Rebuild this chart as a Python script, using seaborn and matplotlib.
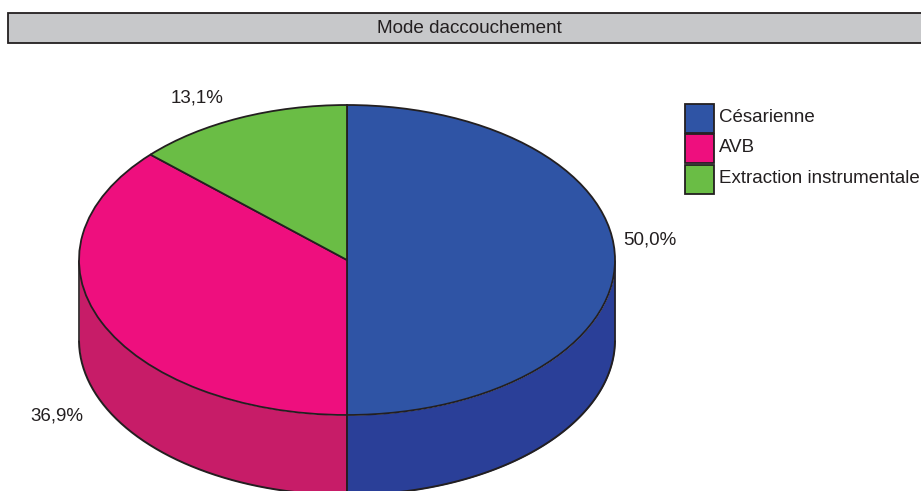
import numpy as np
import matplotlib
matplotlib.use("Agg")
import matplotlib.pyplot as plt
import seaborn as sns
from matplotlib.patches import Rectangle

# Données
categories = ["Césarienne", "AVB", "Extraction instrumentale"]
values = [50.0, 36.9, 13.1]
labels = ["50,0%", "36,9%", "13,1%"]
top_colors = ["#2F54A5", "#EE0F7E", "#6ABD45"]
side_colors = ["#2A3F98", "#C71C68", "#6ABD45"]
title = "Mode daccouchement"

W, H = 921, 491
CX, CY = 347, 260      # centre de l'ellipse en pixels
RX, RY = 268, 155
DEPTH = 80 / RY
EDGE = "#231F20"

sns.set_theme(style="white")
plt.rcParams["font.family"] = ["Liberation Sans", "DejaVu Sans"]

fig = plt.figure(figsize=(W / 100, H / 100), dpi=100, facecolor="white")
ax = fig.add_axes([0, 0, 1, 1])

# Paroi latérale : uniquement la moitié avant de chaque part
cum = 0
for val, col in zip(values, side_colors):
    a1 = 90 - cum * 3.6
    a2 = 90 - (cum + val) * 3.6
    cum += val
    t = np.radians(np.linspace(a1, a2, 200))
    t = t[np.sin(t) <= 0]
    if len(t) == 0:
        continue
    x, y = np.cos(t), np.sin(t)
    order = np.argsort(x)
    ax.fill_between(x[order], y[order], y[order] - DEPTH, color=col, lw=0, zorder=1)
    ax.plot(x[order], y[order] - DEPTH, color=EDGE, lw=1.4, zorder=2)
    for xe in [x[0], x[-1]]:
        ax.plot([xe, xe], [-np.sqrt(max(1 - xe**2, 0)), -np.sqrt(max(1 - xe**2, 0)) - DEPTH],
                color=EDGE, lw=1.2, zorder=2)

# Face supérieure
wedges, _ = ax.pie(values, colors=top_colors, startangle=90, counterclock=False, radius=1,
                   wedgeprops=dict(edgecolor=EDGE, linewidth=1.3, zorder=3), frame=True)
for w in wedges:
    w.set_zorder(3)

ax.set_aspect("auto")
ax.set_xlim(-CX / RX, (W - CX) / RX)
ax.set_ylim(-(H - CY) / RY, CY / RY)
ax.set_xticks([])
ax.set_yticks([])
for s in ax.spines.values():
    s.set_visible(False)

# Étiquettes en pourcentage
label_pos = [(650, 240), (57, 416), (197, 98)]
for lab, (px, py) in zip(labels, label_pos):
    fig.text(px / W, 1 - py / H, lab, ha="center", va="center", fontsize=13.5, color=EDGE)

# Bandeau du titre
fig.add_artist(Rectangle((8 / W, 1 - 43 / H), (W + 20) / W, 30 / H, transform=fig.transFigure,
                         facecolor="#C7C8CA", edgecolor=EDGE, linewidth=1.3))
fig.text(469.5 / W, 1 - 28.5 / H, title, ha="center", va="center", fontsize=13.6, color=EDGE)

# Légende
leg = ax.legend(wedges, categories, loc="upper left", bbox_to_anchor=(682 / W, 1 - 101 / H),
                bbox_transform=fig.transFigure, frameon=False, fontsize=13.5, labelcolor=EDGE,
                handlelength=1.55, handleheight=2.0, handletextpad=0.25, labelspacing=0.09,
                borderpad=0.15, borderaxespad=0)
# texte un peu au-dessus du centre des carrés
for txt in leg.get_texts():
    txt.set_position((0, 2.5))

fig.savefig("out.png", dpi=100)
